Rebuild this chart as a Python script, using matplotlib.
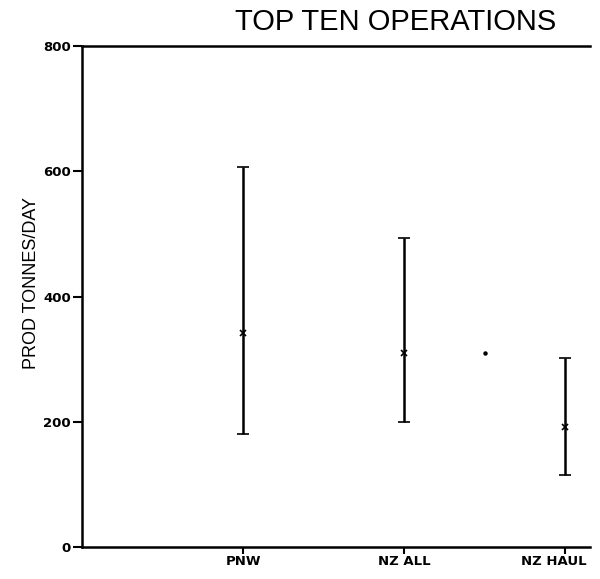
import matplotlib.pyplot as plt
from matplotlib.transforms import ScaledTranslation

sites = ['PNW', 'NZ ALL', 'NZ HAUL']
site_pos = [1, 2, 3]
mean_prod = [341, 310, 191]
high_prod = [607, 493, 302]
low_prod = [181, 200, 115]
y_ticks = [0, 200, 400, 600, 800]
# lone dot between NZ ALL and NZ HAUL
dot_x = [2.5]
dot_y = [309]

fig = plt.figure(figsize=(6.0, 5.79), dpi=100)
ax = fig.add_axes([82 / 600, 1 - 547 / 579, 508 / 600, 501 / 579])

err_lo = [m - l for m, l in zip(mean_prod, low_prod)]
err_hi = [h - m for m, h in zip(mean_prod, high_prod)]
ax.errorbar(site_pos, mean_prod, yerr=[err_lo, err_hi], fmt='x', color='black',
            ms=4, mew=1.2, elinewidth=1.8, capsize=4, capthick=1.6)
ax.plot(dot_x, dot_y, 'o', color='black', ms=2.2)

ax.set_xlim(0, 3.155)
ax.set_ylim(0, 800)
ax.set_yticks(y_ticks)
ax.set_yticklabels([str(v) for v in y_ticks], fontweight='bold', fontsize=9.5)
ax.set_xticks(site_pos)
ax.set_xticklabels(sites, fontweight='bold', fontsize=9.5)
ax.tick_params(axis='y', direction='out', length=6.5, width=1.5, color='black', pad=1.5)
ax.tick_params(axis='x', direction='out', length=5, width=1.5, color='black', pad=1)

# last label sits a bit left of its tick in the original
lab = ax.get_xticklabels()[-1]
lab.set_transform(lab.get_transform() + ScaledTranslation(-8 / 72, 0, fig.dpi_scale_trans))

ax.spines['right'].set_visible(False)
for s in ['left', 'bottom', 'top']:
    ax.spines[s].set_linewidth(1.8)

ax.set_ylabel('PROD TONNES/DAY', fontsize=13, family='Liberation Sans')
ax.yaxis.set_label_coords(-0.082, 0.526)

fig.text(396 / 600, 1 - 22 / 579, 'TOP TEN OPERATIONS', ha='center', va='center',
         fontsize=21, family='Liberation Sans')

fig.savefig('out.png', dpi=100, facecolor='white')
